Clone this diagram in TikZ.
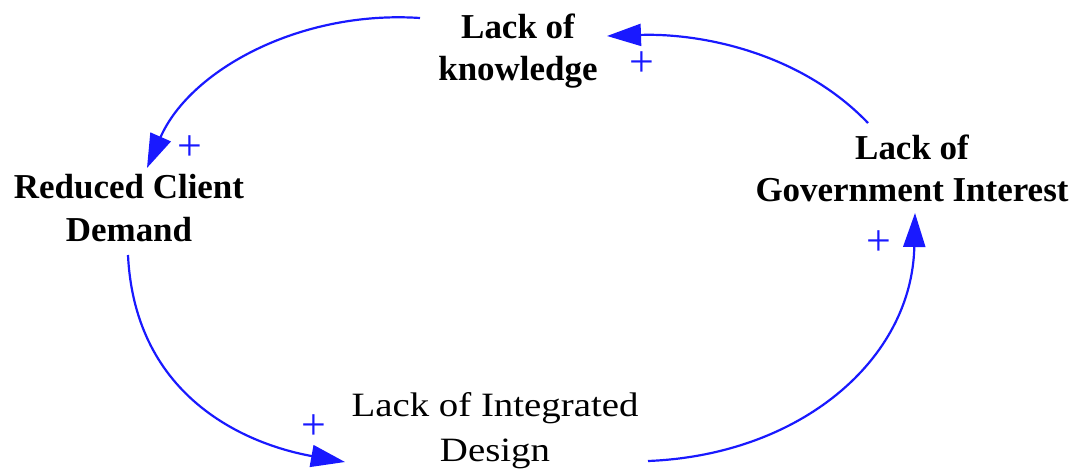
\documentclass[tikz,border=0pt]{standalone}
\usepackage{fontspec}
\setmainfont{Liberation Serif}
\newfontfamily\widserif[FakeStretch=1.14]{Liberation Serif}
\usetikzlibrary{arrows.meta}
\definecolor{linkblue}{RGB}{25,25,255}
\tikzset{
  boldvar/.style={align=center, inner sep=0pt,
    font=\fontsize{19.9}{24}\selectfont\bfseries},
  plainvar/.style={align=center, inner sep=0pt,
    font=\widserif\fontsize{19.4}{25.5}\selectfont},
  link/.style={draw=linkblue, line width=1.25pt,
    -{Triangle[length=0.68cm,width=0.44cm]}},
  polarity/.style={text=linkblue, inner sep=0pt,
    font=\fontsize{25}{28}\selectfont}
}
\begin{document}
\begin{tikzpicture}[x=0.02cm,y=-0.02cm]
  \useasboundingbox (0,0) rectangle (1079,470);

  % variables of the loop
  \node[boldvar]  (kn) at (518,51)  {Lack of\\knowledge};
  \node[boldvar]  (rc) at (129,208) {Reduced Client\\Demand};
  \node[boldvar]  (gi) at (912,168) {Lack of\\Government Interest};
  \node[plainvar] (id) at (495,431) {Lack of Integrated\\Design};

  % causal links
  \draw[link] ([shift={(-98,-33)}]kn.center)
      .. controls (300,10) and (190,70) .. ([shift={(18,-40)}]rc.center);
  \draw[link] ([shift={(-1,47)}]rc.center)
      .. controls (135,400) and (250,445) .. ([shift={(-150,31)}]id.center);
  \draw[link] ([shift={(153,30)}]id.center)
      .. controls (800,455) and (912,360) .. ([shift={(3,45)}]gi.center);
  \draw[link] ([shift={(-44,-45)}]gi.center)
      .. controls (800,52) and (700,33) .. ([shift={(89,-15)}]kn.center);

  % link polarities
  \node[polarity] (p1) at (190,148) {+};
  \node[polarity] (p2) at (314,427) {+};
  \node[polarity] (p3) at (879,243) {+};
  \node[polarity] (p4) at (642,64)  {+};
\end{tikzpicture}
\end{document}
